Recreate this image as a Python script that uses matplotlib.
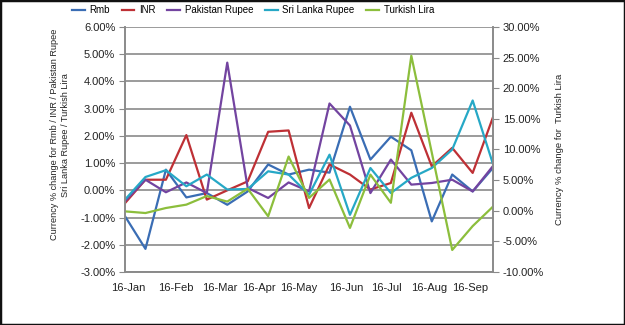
import numpy as np
import matplotlib.pyplot as plt
from matplotlib.patches import Rectangle
from matplotlib.ticker import FuncFormatter

plt.rcParams['font.family'] = ['Liberation Sans', 'DejaVu Sans']

# semi-monthly observations, Jan 2016 - Sep 2016 (% change)
month_labels = ['16-Jan', '16-Feb', '16-Mar', '16-Apr', '16-May',
                '16-Jun', '16-Jul', '16-Aug', '16-Sep']

rmb = [-0.95, -2.15, 0.76, -0.26, -0.10, -0.53, -0.04, 0.95, 0.58, 0.76,
       0.65, 3.07, 1.13, 1.97, 1.47, -1.14, 0.58, -0.04, 0.83]
inr = [-0.47, 0.39, 0.39, 2.03, -0.34, 0.00, 0.33, 2.15, 2.20, -0.65,
       0.95, 0.58, 0.03, 0.27, 2.85, 0.88, 1.56, 0.64, 2.70]
pkr = [-0.40, 0.39, -0.07, 0.29, -0.10, 4.69, 0.09, -0.28, 0.29, -0.04,
       3.19, 2.38, -0.10, 1.13, 0.21, 0.27, 0.39, -0.04, 0.90]
lkr = [-0.34, 0.49, 0.74, 0.15, 0.58, 0.03, 0.05, 0.70, 0.58, -0.16,
       1.31, -0.90, 0.82, -0.10, 0.46, 0.82, 1.50, 3.30, 0.95]
try_ = [-0.1, -0.37, 0.45, 1.0, 2.4, 1.5, 3.6, -0.9, 8.85, 2.1,
        5.1, -2.8, 5.9, 1.3, 25.3, 9.5, -6.4, -2.5, 0.7]   # Turkish Lira, right axis

x = np.arange(len(rmb))

fig = plt.figure(figsize=(6.25, 3.25), dpi=100)
ax = fig.add_axes([0.2, 0.163, 0.589, 0.754])
ax2 = ax.twinx()

grid_c = '#8a8a8a'
ax.plot(x, rmb, color='#3a6db4', lw=1.6, label='Rmb')
ax.plot(x, inr, color='#be3035', lw=1.6, label='INR')
ax.plot(x, pkr, color='#7344a0', lw=1.6, label='Pakistan Rupee')
ax.plot(x, lkr, color='#26a8c6', lw=1.6, label='Sri Lanka Rupee')
ax2.plot(x, try_, color='#8cbe3c', lw=1.6, label='Turkish Lira')

ax.set_xlim(0, 18)
ax.set_ylim(-3, 6)
ax2.set_ylim(-10, 30)
ax.set_yticks(np.arange(-3, 7, 1))
ax2.set_yticks(np.arange(-10, 35, 5))
ax.yaxis.set_major_formatter(FuncFormatter(lambda v, p: f'{v:.2f}%'))
ax2.yaxis.set_major_formatter(FuncFormatter(lambda v, p: f'{v:.2f}%'))

# month labels sit roughly every two observations
tick_pos = [0.15, 2.5, 4.63, 6.54, 8.49, 10.83, 12.78, 14.88, 16.88]
ax.set_xticks(tick_pos)
ax.set_xticklabels(month_labels)

ax.grid(axis='y', color=grid_c, lw=1.2)
ax.set_axisbelow(True)
for a in (ax, ax2):
    for s in a.spines.values():
        s.set_color(grid_c)
        s.set_linewidth(1.2)
    a.spines['top'].set_visible(False)
ax.tick_params(axis='x', length=0, pad=8, labelsize=8, labelcolor='#222222')
ax.tick_params(axis='y', length=4, color=grid_c, pad=3, labelsize=8, labelcolor='#222222')
ax2.tick_params(axis='y', length=4, color=grid_c, pad=3, labelsize=8, labelcolor='#222222')

ax.set_ylabel('Currency % change for Rmb / INR / Pakistan Rupee\nSri Lanka Rupee / Turkish Lira',
              fontsize=6.6, color='#222222', linespacing=1.3)
ax.yaxis.set_label_coords(-0.15, 0.56)
ax2.set_ylabel('Currency % change for  Turkish Lira', fontsize=6.8, color='#222222', labelpad=8)

h1, l1 = ax.get_legend_handles_labels()
h2, l2 = ax2.get_legend_handles_labels()
fig.legend(h1 + h2, l1 + l2, loc='center', bbox_to_anchor=(0.405, 0.968), ncol=5,
           frameon=False, fontsize=7, handlelength=1.3, handletextpad=0.5,
           columnspacing=1.2)

fig.patches.append(Rectangle((0, 0), 1, 1, transform=fig.transFigure, fill=False,
                             edgecolor='#111111', lw=2.5))

fig.savefig('out.png', dpi=100)
